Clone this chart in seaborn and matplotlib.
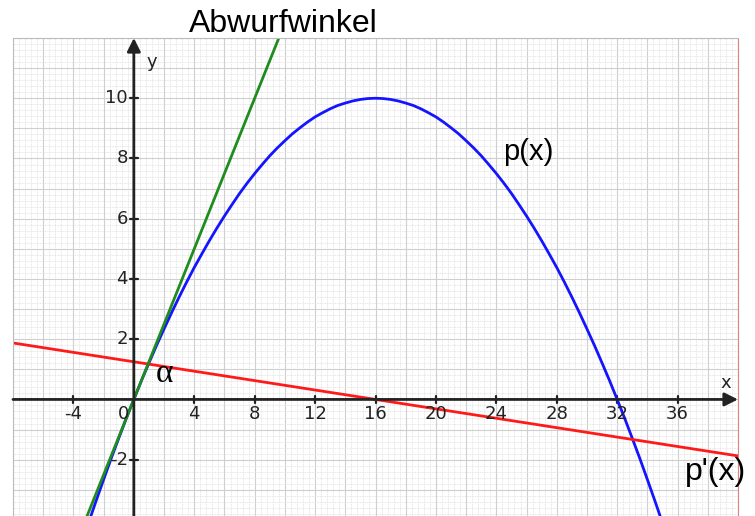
import matplotlib
matplotlib.use('Agg')
import matplotlib.pyplot as plt
import seaborn as sns
from matplotlib.ticker import MultipleLocator

# parabola p(x) at half-unit steps
parab_x = [-3, -2.5, -2, -1.5, -1, -0.5, 0, 0.5, 1, 1.5, 2, 2.5, 3, 3.5, 4, 4.5, 5, 5.5,
           6, 6.5, 7, 7.5, 8, 8.5, 9, 9.5, 10, 10.5, 11, 11.5, 12, 12.5, 13, 13.5, 14,
           14.5, 15, 15.5, 16, 16.5, 17, 17.5, 18, 18.5, 19, 19.5, 20, 20.5, 21, 21.5,
           22, 22.5, 23, 23.5, 24, 24.5, 25, 25.5, 26, 26.5, 27, 27.5, 28, 28.5, 29,
           29.5, 30, 30.5, 31, 31.5, 32, 32.5, 33, 33.5, 34, 34.5, 35]
parab_y = [-4.10, -3.37, -2.66, -1.96, -1.29, -0.63, 0.0, 0.62, 1.21, 1.79, 2.34, 2.88,
           3.40, 3.90, 4.38, 4.83, 5.27, 5.69, 6.09, 6.47, 6.84, 7.18, 7.50, 7.80, 8.09,
           8.35, 8.59, 8.82, 9.02, 9.21, 9.38, 9.52, 9.65, 9.76, 9.84, 9.91, 9.96, 9.99,
           10.0, 9.99, 9.96, 9.91, 9.84, 9.76, 9.65, 9.52, 9.38, 9.21, 9.02, 8.82, 8.59,
           8.35, 8.09, 7.80, 7.50, 7.18, 6.84, 6.47, 6.09, 5.69, 5.27, 4.83, 4.38, 3.90,
           3.40, 2.88, 2.34, 1.79, 1.21, 0.62, 0.0, -0.63, -1.29, -1.96, -2.66, -3.37,
           -4.10]

# derivative line p'(x)
deriv_x = [-8, 16, 40]
deriv_y = [1.875, 0.0, -1.875]

# tangent at the origin (Abwurfwinkel)
tang_x = [-4, 10]
tang_y = [-5.0, 12.5]

xtick_vals = [-4, 4, 8, 12, 16, 20, 24, 28, 32, 36]
ytick_vals = [-2, 2, 4, 6, 8, 10]

sns.set_style("white")
plt.rcParams['font.family'] = ['DejaVu Sans']

fig = plt.figure(figsize=(7.55, 5.16), dpi=100)
ax = fig.add_axes([13 / 755, 0, 725 / 755, 478 / 516])
ax.set_xlim(-8, 40)
ax.set_ylim(-3.87, 12)

# graph paper
ax.xaxis.set_major_locator(MultipleLocator(2))
ax.yaxis.set_major_locator(MultipleLocator(1))
ax.xaxis.set_minor_locator(MultipleLocator(0.4))
ax.yaxis.set_minor_locator(MultipleLocator(0.2))
ax.grid(which='minor', color='#dedede', lw=0.6, ls=(0, (1, 1)))
ax.grid(which='major', color='#cfcfcf', lw=0.8)
ax.tick_params(which='both', length=0, labelbottom=False, labelleft=False)
ax.set_axisbelow(True)
for s in ['top', 'left']:
    ax.spines[s].set_color('#bbbbbb')
    ax.spines[s].set_linewidth(0.8)
ax.spines['right'].set_color('#e08080')
ax.spines['right'].set_linewidth(0.8)
ax.spines['bottom'].set_visible(False)

# coordinate axes with arrows
arrow = dict(arrowstyle='-|>', color='#222222', lw=2, mutation_scale=20,
             shrinkA=0, shrinkB=0)
ax.annotate('', xy=(40, 0), xytext=(-8, 0), arrowprops=arrow, annotation_clip=False)
ax.annotate('', xy=(0, 12), xytext=(0, -3.87), arrowprops=arrow, annotation_clip=False)

for xv in xtick_vals:
    ax.plot([xv, xv], [-0.13, 0.13], color='#222222', lw=1.6)
    ax.text(xv, -0.2, str(xv), ha='center', va='top', fontsize=13, color='#222222')
ax.text(-0.7, -0.2, '0', ha='center', va='top', fontsize=13, color='#222222')
for yv in ytick_vals:
    ax.plot([-0.27, 0.27], [yv, yv], color='#222222', lw=1.6)
    ax.text(-0.4, yv, str(yv), ha='right', va='center', fontsize=13, color='#222222')
ax.text(39.2, 0.25, 'x', ha='center', va='bottom', fontsize=13, color='#222222')
ax.text(1.2, 11.2, 'y', ha='center', va='center', fontsize=13, color='#222222')

# curves
sns.lineplot(x=parab_x, y=parab_y, color='#1414ff', lw=2, ax=ax)
sns.lineplot(x=deriv_x, y=deriv_y, color='#ff1a1a', lw=2, ax=ax)
sns.lineplot(x=tang_x, y=tang_y, color='#1e8c1e', lw=2, ax=ax)

# labels
ax.text(2.0, 0.85, 'α', fontsize=24, family='Liberation Serif', ha='center', va='center',
        color='black')
ax.text(26.1, 8.2, 'p(x)', fontsize=21, family='Liberation Sans', ha='center', va='center',
        color='black')
ax.text(38.5, -2.4, "p'(x)", fontsize=23, family='Liberation Sans', ha='center', va='center',
        color='black')
fig.text(283 / 755, 1 - 24 / 516, 'Abwurfwinkel', fontsize=23, family='Liberation Sans',
         ha='center', va='center', color='black')

fig.savefig('out.png', dpi=100)
